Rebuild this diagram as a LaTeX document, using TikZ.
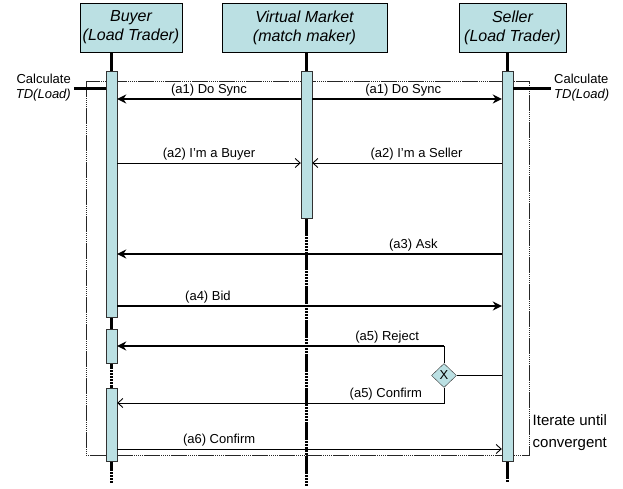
\documentclass[tikz,border=0pt]{standalone}
\usepackage{fontspec}
\setmainfont{Liberation Sans}
\usetikzlibrary{positioning,arrows.meta,calc,shapes.geometric,backgrounds}
\definecolor{lanefill}{RGB}{187,224,227}
\definecolor{laneline}{RGB}{50,50,50}
\tikzset{
  rolebox/.style={draw=black,fill=lanefill,align=center,minimum height=49pt,inner sep=0pt,font=\fontsize{16}{19}\selectfont\itshape},
  actbar/.style={draw=laneline,fill=lanefill,minimum width=11pt,inner sep=0pt,anchor=north},
  stem/.style={line width=3.5pt},
  lifeline/.style={line width=3.5pt,dash pattern=on 18pt off 1pt on 2pt off 1pt on 2pt off 1pt on 2pt off 1pt on 2pt off 1pt on 2pt off 1pt},
  frameline/.style={draw=black!85,line width=0.9pt,dash pattern=on 16pt off 1pt on 1pt off 1pt on 1pt off 1pt on 1pt off 1pt on 1pt off 1pt on 1pt off 1pt},
  syncmsg/.style={-{Stealth[length=9pt,width=9pt]},line width=2.5pt},
  callmsg/.style={-{Straight Barb[length=5pt,width=9pt]},line width=0.9pt},
  plainline/.style={line width=0.9pt},
  calcline/.style={line width=3pt},
  msglabel/.style={above,inner sep=2pt,font=\fontsize{13}{15}\selectfont},
  sidetext/.style={align=left,inner sep=3pt,font=\fontsize{13}{15}\selectfont},
  gate/.style={diamond,draw=laneline,fill=lanefill,minimum width=25pt,minimum height=24pt,inner sep=0pt,font=\fontsize{13}{15}\selectfont},
}

\begin{document}
\begin{tikzpicture}[x=1pt,y=-1pt]
  \useasboundingbox (0,0) rectangle (623,488);
  % participants
  \node[rolebox,minimum width=102pt] (buyer) at (131,27.5) {Buyer\\(Load Trader)};
  \node[rolebox,minimum width=165pt] (market) at (304.5,27.5) {Virtual Market\\(match maker)};
  \node[rolebox,minimum width=107pt] (seller) at (512.5,27.5) {Seller\\(Load Trader)};
  % activation bars
  \node[actbar,minimum height=246pt] (bA) at (111.5,71) {};
  \node[actbar,minimum height=34pt] (bB) at (111.5,329) {};
  \node[actbar,minimum height=73pt] (bC) at (111.5,388) {};
  \node[actbar,minimum height=147pt] (mA) at (306.5,71) {};
  \node[actbar,minimum height=390pt] (sA) at (507.5,71) {};
  % message rows
  \coordinate (y1) at (0,99);
  \coordinate (y2) at (0,163);
  \coordinate (y3) at (0,254);
  \coordinate (y4) at (0,306);
  \coordinate (y5) at (0,346);
  \coordinate (y6) at (0,403);
  \coordinate (y7) at (0,449);
  \coordinate (yEnd) at (0,483);
  \coordinate (loopNW) at (86,81);
  \coordinate (loopSE) at (529,455);
  \begin{pgfonlayer}{background}
    \draw[lifeline] (bA.south) -- (bA.south |- yEnd);
    \draw[lifeline] (mA.south) -- (mA.south |- 0,487);
    \draw[lifeline] (sA.south) -- (sA.south |- yEnd);
    \draw[stem] (bA.north |- buyer.south) -- (bA.north);
    \draw[stem] (mA.north |- market.south) -- (mA.north);
    \draw[stem] (sA.north |- seller.south) -- (sA.north);
    \draw[frameline] (loopNW) rectangle (loopSE);
  \end{pgfonlayer}
  % calculation
  \node[sidetext,anchor=east,align=right] (calcL) at (74,88) {Calculate\\\textit{TD(Load)}};
  \node[sidetext,anchor=west] (calcR) at (551,88) {Calculate\\\textit{TD(Load)}};
  \draw[calcline] (calcL.east) -- (bA.west |- calcL.east);
  \draw[calcline] (sA.east |- calcR.west) -- (calcR.west);
  % messages
  \draw[syncmsg] (mA.west |- y1) -- (bA.east |- y1) node[msglabel,midway] {(a1) Do Sync};
  \draw[syncmsg] (mA.east |- y1) -- (sA.west |- y1) node[msglabel,pos=0.48] {(a1) Do Sync};
  \draw[callmsg] (bA.east |- y2) -- (mA.west |- y2) node[msglabel,midway] {(a2) I'm a Buyer};
  \draw[callmsg] (sA.west |- y2) -- (mA.east |- y2) node[msglabel,pos=0.45] {(a2) I'm a Seller};
  \draw[syncmsg] (sA.west |- y3) -- (bA.east |- y3) node[msglabel,pos=0.23] {(a3) Ask};
  \draw[syncmsg] (bA.east |- y4) -- (sA.west |- y4) node[msglabel,pos=0.236] {(a4) Bid};
  \node[gate] (gate) at (444,375.5) {X};
  \draw[plainline] (sA.west |- gate) -- (gate.east);
  \draw[plainline] (gate.north) -- (gate.north |- y5);
  \draw[syncmsg] (gate.north |- y5) -- (bB.east |- y5) node[msglabel,pos=0.174] {(a5) Reject};
  \draw[callmsg] (gate.south) |- (bC.east |- y6) node[msglabel,pos=0.589] {(a5) Confirm};
  \draw[callmsg] (bC.east |- y7) -- (sA.west |- y7) node[msglabel,pos=0.265] {(a6) Confirm};
  \node[sidetext,anchor=west,inner sep=2.5pt,font=\fontsize{15}{22}\selectfont] (iter) at (530,433) {Iterate until\\convergent};
\end{tikzpicture}
\end{document}
